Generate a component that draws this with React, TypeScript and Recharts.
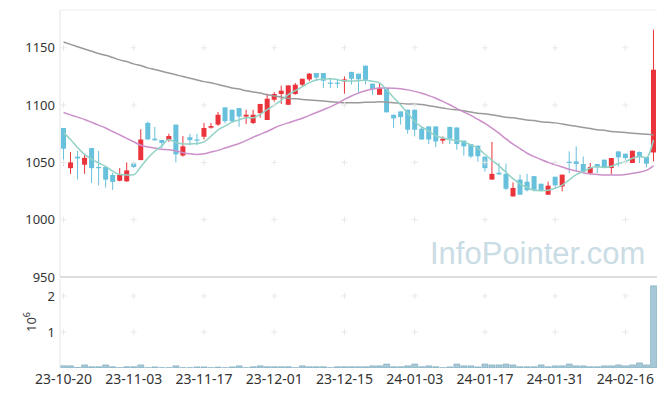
import React from 'react';
import { ComposedChart, Bar, Line, XAxis, YAxis, ReferenceLine } from 'recharts';

// trading days, 23-10-20 .. 24-02-22
const dates = [
  '23-10-20', '23-10-23', '23-10-24', '23-10-25', '23-10-26', '23-10-27', '23-10-30', '23-10-31', '23-11-01', '23-11-02',
  '23-11-03', '23-11-06', '23-11-07', '23-11-08', '23-11-09', '23-11-10', '23-11-13', '23-11-14', '23-11-15', '23-11-16',
  '23-11-17', '23-11-20', '23-11-21', '23-11-22', '23-11-23', '23-11-24', '23-11-27', '23-11-28', '23-11-29', '23-11-30',
  '23-12-01', '23-12-04', '23-12-05', '23-12-06', '23-12-07', '23-12-08', '23-12-11', '23-12-12', '23-12-13', '23-12-14',
  '23-12-15', '23-12-18', '23-12-19', '23-12-20', '23-12-21', '23-12-22', '23-12-26', '23-12-27', '23-12-28', '24-01-02',
  '24-01-03', '24-01-04', '24-01-05', '24-01-08', '24-01-09', '24-01-10', '24-01-11', '24-01-12', '24-01-15', '24-01-16',
  '24-01-17', '24-01-18', '24-01-19', '24-01-22', '24-01-23', '24-01-24', '24-01-25', '24-01-26', '24-01-29', '24-01-30',
  '24-01-31', '24-02-01', '24-02-02', '24-02-05', '24-02-06', '24-02-07', '24-02-08', '24-02-13', '24-02-14', '24-02-15',
  '24-02-16', '24-02-19', '24-02-20', '24-02-21', '24-02-22',
];

const opens = [
  1080, 1045, 1055, 1048, 1062.5, 1046, 1046, 1039, 1034, 1033.5,
  1049, 1052, 1084.5, 1070.7, 1069.5, 1069.5, 1083, 1056, 1072, 1070,
  1072.4, 1080.3, 1083, 1098, 1096, 1097.4, 1090, 1084.4, 1093, 1087,
  1104.7, 1109.7, 1100.3, 1109.7, 1117.8, 1122.4, 1128, 1128, 1119.6, 1119.6,
  1120.7, 1129, 1127.4, 1134.4, 1118.7, 1109, 1115, 1091.6, 1094.5, 1096,
  1096, 1079.4, 1081.4, 1081.4, 1069, 1081, 1080.5, 1069, 1066, 1064.6,
  1055, 1035, 1041, 1040, 1020.3, 1035, 1033.2, 1038, 1031.4, 1021.8,
  1037.5, 1029, 1050.6, 1050.9, 1048.6, 1040.7, 1048.6, 1052.4, 1045.1, 1059.6,
  1057.6, 1049.5, 1059.1, 1054.7, 1058.7,
];
const highs = [
  1080, 1059, 1060, 1057, 1062.5, 1060, 1047, 1041, 1045, 1050,
  1050, 1079, 1085.5, 1081, 1069.5, 1075, 1083, 1073, 1075, 1075,
  1084.5, 1084.4, 1094, 1098, 1096, 1097.4, 1096, 1096, 1101, 1110,
  1111.4, 1117, 1117.2, 1119.3, 1123, 1128, 1128, 1128, 1123, 1123,
  1125, 1129, 1127.4, 1134.5, 1118.7, 1118.7, 1115, 1091.6, 1094.5, 1096,
  1096, 1081.4, 1081.4, 1081.4, 1072.7, 1081, 1080.5, 1069, 1066, 1064.6,
  1055, 1067.8, 1049.5, 1049, 1032.5, 1039.3, 1040, 1038, 1031.4, 1033.2,
  1037.5, 1039.3, 1059.6, 1064, 1055.2, 1049.5, 1048.6, 1052.4, 1053.8, 1059.6,
  1057.6, 1060.2, 1059.6, 1054.7, 1165.8,
];
const lows = [
  1047, 1040, 1035, 1040, 1032, 1030, 1028, 1026, 1033.5, 1033,
  1045, 1052, 1070, 1069, 1062.5, 1068, 1050, 1055, 1065, 1065,
  1070, 1079.4, 1082, 1084, 1084.4, 1081, 1083.5, 1083.5, 1089, 1087,
  1103, 1101, 1100, 1109, 1116.5, 1121, 1121, 1115, 1115, 1115,
  1110, 1118, 1110.6, 1118, 1109, 1109, 1093.7, 1080, 1083, 1075,
  1072.7, 1070, 1066, 1063.4, 1066.3, 1066, 1061, 1056, 1053.8, 1050.6,
  1042, 1035, 1039.5, 1025.7, 1020.3, 1021.8, 1024.7, 1024.7, 1024.7, 1021.8,
  1028, 1024.7, 1040.7, 1042, 1041.6, 1039.3, 1040.7, 1045.1, 1039.9, 1046.5,
  1049.5, 1049.5, 1049.5, 1045.6, 1050.9,
];
const closes = [
  1062, 1050, 1053.5, 1054, 1045, 1045, 1035, 1033, 1039, 1043,
  1046, 1070, 1070, 1069.3, 1067, 1073, 1057, 1064, 1069.5, 1069,
  1080, 1081.7, 1091.6, 1086, 1086, 1090, 1091.6, 1091.6, 1101, 1105.6,
  1109.7, 1112.6, 1117.2, 1117.8, 1123, 1127.4, 1124, 1121.3, 1119.2, 1119.2,
  1122.4, 1123, 1122.5, 1122, 1114, 1115, 1093.7, 1088.4, 1089.6, 1078.5,
  1078.5, 1070, 1070, 1068.3, 1070.7, 1070.7, 1066, 1064, 1055.2, 1055.4,
  1045, 1040, 1039.5, 1027, 1027.7, 1021.8, 1025.7, 1026.2, 1025.3, 1029.7,
  1030, 1039.3, 1049.5, 1048.6, 1042.1, 1046, 1045.6, 1045.6, 1053.8, 1054.4,
  1053.8, 1060.2, 1054.4, 1048.9, 1130.9,
];

const ma5 = [
  1076, 1070, 1063, 1057, 1052.9, 1049.5, 1046.5, 1042.4, 1039.4, 1039,
  1039.2, 1046.2, 1053.6, 1059.7, 1064.5, 1069.9, 1067.3, 1066.1, 1066.1, 1066.5,
  1067.9, 1072.8, 1078.4, 1081.7, 1085.1, 1087.1, 1089, 1089, 1092, 1096,
  1099.9, 1104.1, 1109.2, 1112.6, 1116.1, 1119.6, 1121.9, 1122.7, 1123, 1122.2,
  1121.2, 1121, 1121.3, 1121.8, 1120.8, 1119.3, 1113.4, 1106.6, 1100.1, 1093,
  1085.7, 1081, 1077.3, 1073.1, 1071.5, 1069.9, 1069.1, 1067.9, 1065.3, 1062.3,
  1057.1, 1051.9, 1047, 1041.4, 1035.8, 1031.2, 1028.3, 1025.7, 1025.3, 1025.7,
  1027.4, 1030.1, 1034.8, 1039.4, 1041.9, 1045.1, 1046.4, 1045.6, 1046.6, 1049.1,
  1050.6, 1053.6, 1055.3, 1054.3, 1069.6,
];
const ma20 = [
  1093.5, 1091.5, 1089.5, 1087.5, 1085, 1082.5, 1080, 1077, 1074, 1071,
  1068, 1065, 1063.5, 1062.5, 1061.5, 1061, 1060, 1058.5, 1057.5, 1057,
  1057.5, 1059, 1060.5, 1062.5, 1064.5, 1066.5, 1069, 1072, 1074.5, 1077,
  1080, 1082.5, 1084.5, 1086.5, 1088.5, 1091, 1093.5, 1096, 1098.5, 1101.5,
  1105, 1108, 1110.5, 1112.5, 1114, 1115, 1115, 1114.8, 1114.3, 1113.3,
  1112, 1110.3, 1108.3, 1106, 1103.3, 1100.3, 1097, 1094, 1091, 1087.5,
  1084, 1080, 1075.5, 1070.5, 1066, 1062, 1058, 1055, 1052.5, 1050,
  1048, 1046, 1044, 1042.5, 1041, 1040, 1039.5, 1039, 1039, 1039,
  1039.5, 1040.5, 1041.5, 1043, 1047,
];
const ma60 = [
  1155, 1153, 1151, 1149, 1147, 1145, 1143.5, 1141.5, 1139.5, 1138,
  1136, 1134.5, 1132.5, 1131, 1129.5, 1128, 1126.5, 1125, 1123.5, 1122,
  1120.5, 1119.5, 1118, 1116.5, 1115, 1114, 1112.5, 1111.5, 1110.5, 1109,
  1108, 1107, 1106, 1105.5, 1105, 1104.5, 1104, 1103.5, 1103, 1102.5,
  1102, 1102, 1102, 1102.5, 1102.5, 1103, 1102.5, 1102, 1101.5, 1101,
  1101, 1100.5, 1099.5, 1098.5, 1097.5, 1096.5, 1096, 1095, 1094, 1093,
  1092.5, 1091.5, 1090.5, 1089.5, 1089, 1088, 1087, 1086.5, 1085.5, 1085,
  1084.5, 1083.5, 1082.5, 1081.5, 1080.5, 1079.5, 1078.5, 1078, 1077, 1076.5,
  1076, 1075.5, 1075, 1074.5, 1074,
];

const volumes = [
  65000, 60000, 15000, 85000, 35000, 35000, 85000, 35000, 8000, 35000,
  35000, 85000, 8000, 30000, 8000, 8000, 60000, 8000, 8000, 30000,
  30000, 8000, 25000, 8000, 30000, 60000, 8000, 35000, 60000, 35000,
  35000, 35000, 35000, 8000, 60000, 35000, 35000, 35000, 8000, 35000,
  35000, 35000, 35000, 35000, 60000, 60000, 110000, 35000, 35000, 60000,
  110000, 35000, 60000, 35000, 8000, 30000, 110000, 60000, 60000, 30000,
  110000, 85000, 85000, 110000, 85000, 35000, 35000, 35000, 85000, 35000,
  60000, 60000, 110000, 60000, 60000, 35000, 35000, 60000, 60000, 85000,
  60000, 85000, 140000, 85000, 2280000,
];

const xTicks = ['23-10-20', '23-11-03', '23-11-17', '23-12-01', '23-12-15', '24-01-03', '24-01-17', '24-01-31', '24-02-16'];
const priceTicks = [950, 1000, 1050, 1100, 1150];
const volumeTicks = [1000000, 2000000];

const UP = '#ea333a';
const DOWN = '#67c0dc';
const FONT = "'Noto Sans', sans-serif";

const rows = dates.map((date, i) => ({
  date,
  open: opens[i],
  high: highs[i],
  low: lows[i],
  close: closes[i],
  range: [lows[i], highs[i]],
  ma5: ma5[i],
  ma20: ma20[i],
  ma60: ma60[i],
  volume: volumes[i],
  tick: xTicks.includes(date),
}));

function Candle(props: any) {
  const { x, y, width, height, payload } = props;
  const { open, close, high, low } = payload;
  const color = close >= open ? UP : DOWN;
  const k = high > low ? height / (high - low) : 0;
  const cx = x + width / 2;
  const top = y + (high - Math.max(open, close)) * k;
  const bottom = y + (high - Math.min(open, close)) * k;
  return (
    <g>
      <line x1={cx} x2={cx} y1={y} y2={y + height} stroke={color} strokeWidth={1} />
      <rect x={x} y={top} width={width} height={Math.max(1.2, bottom - top)} fill={color} />
    </g>
  );
}

// faint "+" marks where grid lines would cross
const plusDot = (props: any) => {
  const { cx, cy, index } = props;
  if (cx == null || cy == null || Number.isNaN(cy)) return <g key={index} />;
  return (
    <path
      key={index}
      d={`M${cx - 3},${cy}H${cx + 3}M${cx},${cy - 3}V${cy + 3}`}
      stroke="#e8e8e8"
      strokeWidth={1}
    />
  );
};

function gridMarks(levels: number[], prefix: string) {
  return levels.map((level) => (
    <Line
      key={prefix + level}
      dataKey={(d: any) => (d.tick ? level : null)}
      stroke="none"
      dot={plusDot}
      activeDot={false}
      isAnimationActive={false}
    />
  ));
}

const ExpLabel = (props: any) => {
  const vb = props.viewBox || { x: 0, y: 0, width: 60, height: 89 };
  return (
    <text
      transform={`translate(${vb.x + 36},${vb.y + 53}) rotate(-90)`}
      fontSize={13}
      fill="#333"
      fontFamily={FONT}
    >
      10
      <tspan dy={-6} fontSize={9}>6</tspan>
    </text>
  );
};

export default function App() {
  return (
    <div style={{ position: 'absolute', left: 0, top: 0, width: 665, height: 396, background: '#fff', fontFamily: FONT }}>
      <div style={{ position: 'absolute', left: 0, top: 278 }}>
        <ComposedChart width={665} height={118} data={rows} margin={{ top: 1, right: 8, left: 0, bottom: 0 }} barCategoryGap="8%">
          <XAxis
            dataKey="date"
            ticks={xTicks}
            interval={0}
            height={28}
            axisLine={false}
            tickLine={false}
            tickSize={4}
            tickMargin={2}
            tick={{ fontSize: 14, fill: '#333', fontFamily: FONT }}
          />
          <YAxis
            domain={[0, 2470000]}
            ticks={volumeTicks}
            interval={0}
            allowDataOverflow
            width={60}
            tickLine={false}
            tickSize={3}
            tickMargin={2}
            axisLine={{ stroke: '#e4e4e4' }}
            tickFormatter={(v: number) => String(v / 1000000)}
            tick={{ fontSize: 13, fill: '#333', fontFamily: FONT }}
            label={{ content: ExpLabel }}
          />
          {gridMarks(volumeTicks, 'v')}
          <Bar dataKey="volume" fill="#a7c9d7" stroke="#78a7bc" strokeWidth={0.6} isAnimationActive={false} />
        </ComposedChart>
      </div>

      <div style={{ position: 'absolute', left: 0, top: 0 }}>
        <ComposedChart width={665} height={292} data={rows} margin={{ top: 10, right: 8, left: 0, bottom: 15 }}>
          <XAxis dataKey="date" hide />
          <YAxis
            domain={[950, 1183]}
            ticks={priceTicks}
            interval={0}
            allowDataOverflow
            width={60}
            tickLine={false}
            tickSize={3}
            tickMargin={2}
            axisLine={{ stroke: '#e4e4e4' }}
            tick={{ fontSize: 13, fill: '#333', fontFamily: FONT }}
          />
          <ReferenceLine y={1183} stroke="#eeeeee" />
          {gridMarks([1000, 1050, 1100, 1150], 'p')}
          <Line type="monotone" dataKey="ma60" stroke="#9a9a9a" strokeWidth={1.5} dot={false} activeDot={false} isAnimationActive={false} />
          <Line type="monotone" dataKey="ma20" stroke="#cc8fca" strokeWidth={1.5} dot={false} activeDot={false} isAnimationActive={false} />
          <Line type="monotone" dataKey="ma5" stroke="#92d2c6" strokeWidth={1.5} dot={false} activeDot={false} isAnimationActive={false} />
          <Bar dataKey="range" barSize={5} shape={Candle} isAnimationActive={false} />
          <ReferenceLine y={950} stroke="#dddddd" strokeWidth={2} />
        </ComposedChart>
      </div>

      <div
        style={{
          position: 'absolute',
          left: 430,
          top: 236,
          fontFamily: "'Liberation Sans', Arial, sans-serif",
          fontSize: 31,
          color: '#cadce4',
          pointerEvents: 'none',
          whiteSpace: 'nowrap',
        }}
      >
        InfoPointer.com
      </div>
    </div>
  );
}
